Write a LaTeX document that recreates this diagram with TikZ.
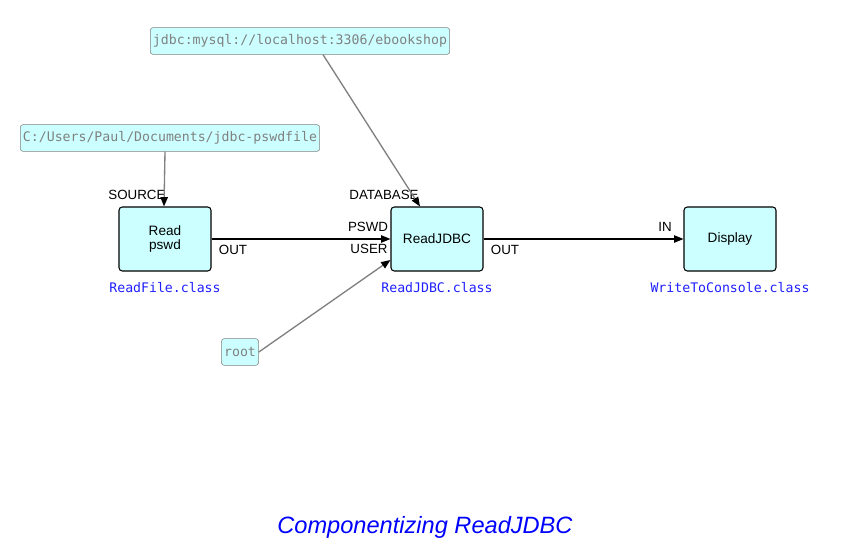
\documentclass[tikz,border=0pt]{standalone}
\usepackage{fontspec}
\setmainfont{Liberation Sans}
\newfontfamily\monofont{DejaVu Sans Mono}
\usetikzlibrary{arrows.meta}
\definecolor{boxfill}{HTML}{CCFFFF}
\definecolor{paramgray}{HTML}{808080}
\definecolor{classblue}{HTML}{2020FF}

\begin{document}
\begin{tikzpicture}[x=0.75pt,y=-0.75pt,>={Triangle[length=7pt,width=5.5pt]}]
\tikzset{
 comp/.style={draw=black,fill=boxfill,rounded corners=2.5pt,thick,minimum width=69pt,minimum height=48pt,
   font=\fontsize{10.2}{11}\selectfont,align=center},
 param/.style={draw=paramgray,fill=boxfill,rounded corners=2pt,text=paramgray,inner sep=2pt,
   minimum height=20pt,font=\monofont\fontsize{9.9}{10}\selectfont},
 cls/.style={text=classblue,font=\monofont\fontsize{9.9}{10}\selectfont},
 port/.style={font=\fontsize{10}{11}\selectfont},
 wire/.style={->,thick},
 feed/.style={-{Triangle[length=7pt,width=5.5pt,black]},paramgray,line width=1pt}
}
\useasboundingbox (0,0) rectangle (850,550);
% components
\node[comp] (read) at (165,239) {Read\\ pswd};
\node[comp] (jdbc) at (437,239) {ReadJDBC};
\node[comp] (disp) at (730,239) {Display};
\node[cls] (readcls) at (165,288) {ReadFile.class};
\node[cls] (jdbccls) at (437,288) {ReadJDBC.class};
\node[cls] (dispcls) at (730,288) {WriteToConsole.class};
% parameters
\node[param] (url) at (300,41) {jdbc:mysql://localhost:3306/ebookshop};
\node[param] (file) at (170,138) {C:/Users/Paul/Documents/jdbc-pswdfile};
\node[param] (user) at (240,352) {root};
% ports
\node[port] (src) at (137,195) {SOURCE};
\node[port] (db) at (384,195) {DATABASE};
\node[port] (pw) at (368,227) {PSWD};
\node[port] (us) at (369,249) {USER};
\node[port] (out1) at (233,250) {OUT};
\node[port] (out2) at (505,250) {OUT};
\node[port] (in) at (665,227) {IN};
% connections
\draw[feed] (file.south -| read.north) -- ([xshift=-0.75pt]read.north);
\draw[feed] ([xshift=17.25pt]url.south) -- ([xshift=-12.75pt]jdbc.north);
\draw[feed] (user.east) -- ([yshift=-15.75pt]jdbc.west);
\draw[wire] (read.east) -- (jdbc.west);
\draw[wire] (jdbc.east) -- (disp.west);
\node[text=blue,font=\itshape\fontsize{17.7}{20}\selectfont] (title) at (425,527) {Componentizing ReadJDBC};
\end{tikzpicture}
\end{document}
